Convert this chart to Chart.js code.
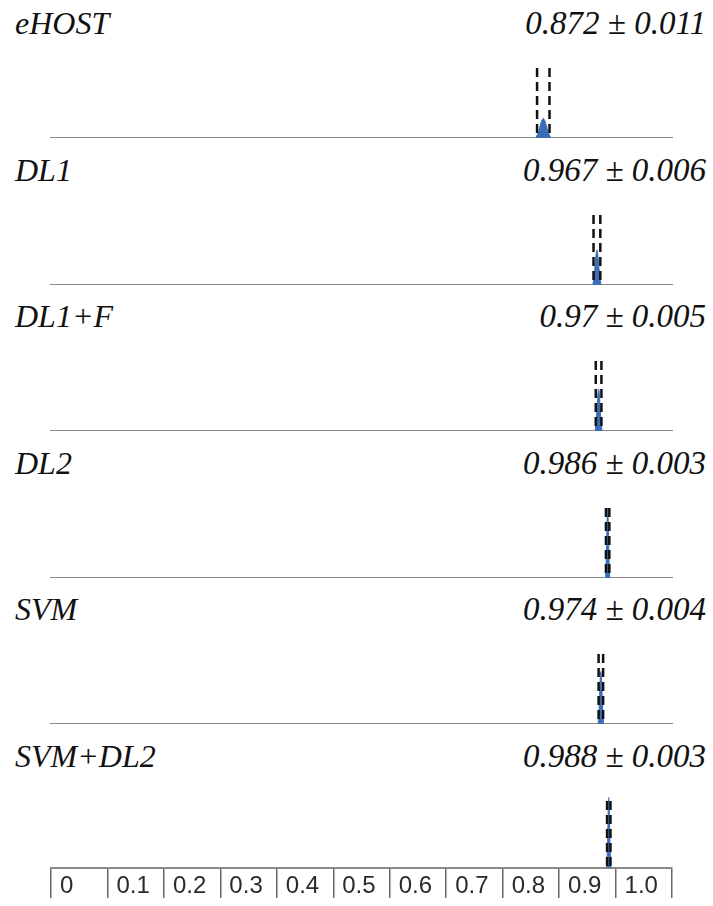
<!DOCTYPE html>
<html>
<head>
<meta charset="utf-8">
<script src="https://cdn.jsdelivr.net/npm/chart.js@4/dist/chart.umd.min.js"></script>
<style>
  body { margin: 0; background: #fff; width: 713px; height: 906px; overflow: hidden; position: relative; }
  .title { position: absolute; left: 0; width: 713px; height: 40px; line-height: 40px;
           font-family: "Liberation Serif", "Times New Roman", serif; font-style: italic; font-size: 32px; color: #111; }
  .title .name { position: absolute; left: 15px; }
  .title .stat { position: absolute; right: 7px; font-size: 33px; }
  canvas { position: absolute; left: 0; }
</style>
</head>
<body>
<script>
'use strict';

// models and their scores (mean, std)
var models = ['eHOST', 'DL1', 'DL1+F', 'DL2', 'SVM', 'SVM+DL2'];
var means = [0.872, 0.967, 0.97, 0.986, 0.974, 0.988];
var stds = [0.011, 0.006, 0.005, 0.003, 0.004, 0.003];
var statLabels = ['0.872 \u00b1 0.011', '0.967 \u00b1 0.006', '0.97 \u00b1 0.005',
  '0.986 \u00b1 0.003', '0.974 \u00b1 0.004', '0.988 \u00b1 0.003'];
// peak height of the blue density, relative to the height of the dashed lines
var peaks = [0.28, 0.5, 0.6, 1.0, 0.75, 1.05];
// density outline, offsets in std units and fraction of the peak
var shapeX = [-1.2, -1, -0.75, -0.5, -0.25, 0, 0.25, 0.5, 0.75, 1, 1.2];
var shapeY = [0, 0.14, 0.32, 0.61, 0.88, 1, 0.88, 0.61, 0.32, 0.14, 0];
// bottom axis
var tickValues = [0, 0.1, 0.2, 0.3, 0.4, 0.5, 0.6, 0.7, 0.8, 0.9, 1.0, 1.1];
var tickLabels = ['0', '0.1', '0.2', '0.3', '0.4', '0.5', '0.6', '0.7', '0.8', '0.9', '1.0', ''];

var pitch = 146.5;

for (var i = 0; i < models.length; i++) {
  drawPanel(i);
}

function drawPanel(i) {
  var top = Math.round(i * pitch);
  var last = i === models.length - 1;

  // header text
  var head = document.createElement('div');
  head.className = 'title';
  head.style.top = (top + 3) + 'px';
  var name = document.createElement('span');
  name.className = 'name';
  name.textContent = models[i];
  var stat = document.createElement('span');
  stat.className = 'stat';
  stat.textContent = statLabels[i];
  head.appendChild(name);
  head.appendChild(stat);
  document.body.appendChild(head);

  // canvas
  var canvas = document.createElement('canvas');
  var h = last ? 906 - (top + 56) : 82;
  canvas.style.top = (top + 56) + 'px';
  canvas.style.width = '713px';
  canvas.style.height = h + 'px';
  canvas.width = 713;
  canvas.height = h;
  document.body.appendChild(canvas);

  var lo = means[i] - stds[i];
  var hi = means[i] + stds[i];
  var density = [];
  for (var k = 0; k < shapeX.length; k++) {
    density.push({ x: means[i] + shapeX[k] * stds[i], y: shapeY[k] * peaks[i] });
  }

  var xAxis = {
    type: 'linear',
    min: 0,
    max: 1.1,
    border: { display: true, color: '#8a8a8a', width: 2 },
    grid: { display: true, drawOnChartArea: false, drawTicks: false },
    ticks: { display: false }
  };
  if (last) {
    xAxis.afterBuildTicks = function (axis) {
      axis.ticks = tickValues.map(function (v) { return { value: v }; });
    };
    xAxis.afterFit = function (axis) {
      axis.height = 38;
    };
    xAxis.grid = { display: true, drawOnChartArea: false, drawTicks: true, tickLength: 30, color: '#666', lineWidth: 1.5 };
    xAxis.ticks = {
      display: true,
      align: 'start',
      labelOffset: 9,
      padding: -26,
      color: '#2a2a2a',
      maxRotation: 0,
      autoSkip: false,
      font: { family: '"Liberation Sans", Arial, sans-serif', size: 24 },
      callback: function (value, index) { return tickLabels[index]; }
    };
  }

  new Chart(canvas, {
    type: 'line',
    data: {
      datasets: [
        { data: [{ x: lo, y: 1 }, { x: lo, y: 0 }], borderColor: '#111', borderWidth: 2.5, borderDash: [9, 5], pointRadius: 0 },
        { data: [{ x: hi, y: 1 }, { x: hi, y: 0 }], borderColor: '#111', borderWidth: 2.5, borderDash: [9, 5], pointRadius: 0 },
        { data: density, borderColor: '#3a6db5', backgroundColor: '#3a6db5', borderWidth: 1, fill: 'origin', pointRadius: 0, tension: 0.3, clip: false }
      ]
    },
    options: {
      responsive: false,
      animation: false,
      layout: { padding: { left: 51, right: 41, top: 12, bottom: 0 } },
      plugins: { legend: { display: false }, tooltip: { enabled: false }, title: { display: false } },
      scales: {
        x: xAxis,
        y: { display: false, min: 0, max: 1 }
      }
    }
  });
}
</script>
</body>
</html>
